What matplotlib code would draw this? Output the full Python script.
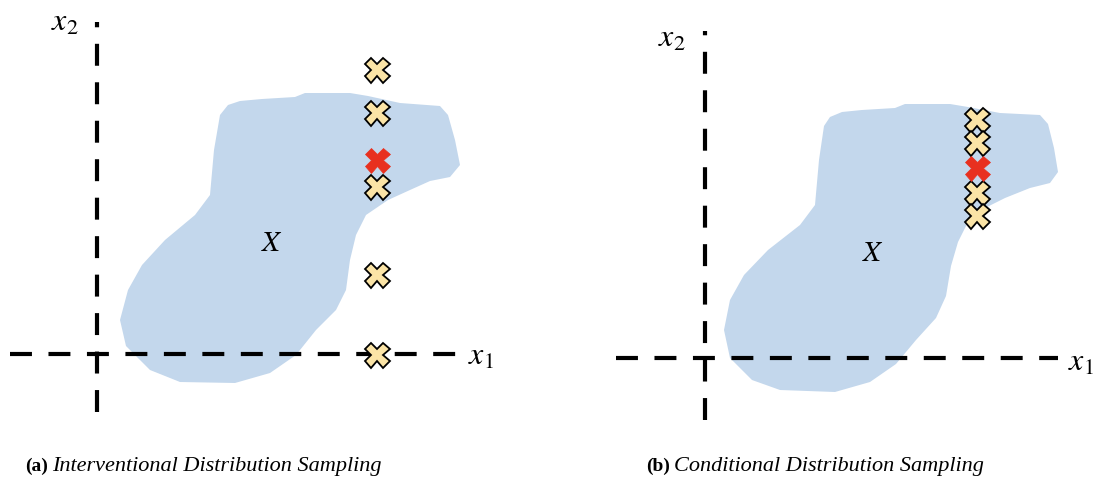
import matplotlib
matplotlib.use("Agg")
import matplotlib.pyplot as plt
from matplotlib.patches import Polygon

plt.rcParams['lines.scale_dashes'] = False
plt.rcParams['mathtext.fontset'] = 'stix'

# Panel (a): interventional sampling (pixel-like coordinates)
blob_a_x = [228, 240, 262, 295, 305, 350, 368, 400, 440, 448, 455, 460, 450, 430, 410, 388, 366, 356, 350, 346, 336,
            316, 296, 270, 235, 180, 150, 126, 120, 128, 142, 165, 195, 210, 214, 220]
blob_a_y = [105, 101, 99, 97, 93, 93, 96, 103, 106, 115, 140, 165, 177, 181, 190, 200, 215, 235, 260, 290, 310,
            330, 355, 373, 383, 382, 370, 346, 320, 290, 265, 240, 215, 195, 150, 115]
samples_a_y = [70, 113, 187, 275, 355]
target_a_y = [160]
samples_a_x = 377

# Panel (b): conditional sampling
blob_b_x = [830, 842, 862, 895, 905, 950, 968, 1000, 1040, 1048, 1054, 1058, 1050, 1030, 1005, 985, 968, 958, 951,
            946, 936, 916, 896, 870, 835, 780, 752, 730, 724, 730, 744, 768, 800, 815, 819, 824]
blob_b_y = [117, 112, 110, 108, 104, 104, 107, 113, 115, 124, 148, 172, 183, 188, 198, 208, 222, 242, 266,
            296, 318, 340, 364, 382, 392, 390, 380, 358, 330, 300, 275, 250, 225, 205, 160, 126]
samples_b_y = [120, 143, 193, 216]
target_b_y = [168]
samples_b_x = 977

fig = plt.figure(figsize=(10.97, 4.8), dpi=100)
ax = fig.add_axes([0, 0, 1, 1])
ax.set_xlim(0, 1097)
ax.set_ylim(480, 0)
ax.axis('off')

blue = '#c3d7ec'
cream = '#fbe4a6'
red = '#e8301f'
dash = (0, (15.8, 11.9))
lw = 3.0

for bx, by in [(blob_a_x, blob_a_y), (blob_b_x, blob_b_y)]:
    ax.add_patch(Polygon(list(zip(bx, by)), closed=True, facecolor=blue, edgecolor='none', zorder=1))

# axes lines
ax.plot([97, 97], [412, 22], color='black', lw=lw, linestyle=dash, zorder=2, dash_capstyle='butt')
ax.plot([10, 456], [354, 354], color='black', lw=lw, linestyle=dash, zorder=2, dash_capstyle='butt')
ax.plot([705, 705], [420, 31], color='black', lw=lw, linestyle=dash, zorder=2, dash_capstyle='butt')
ax.plot([616, 1058], [358, 358], color='black', lw=lw, linestyle=dash, zorder=2, dash_capstyle='butt')

ax.text(65, 22, r'$x_2$', fontsize=23, ha='center', va='center')
ax.text(481, 356, r'$x_1$', fontsize=23, ha='center', va='center')
ax.text(672, 38, r'$x_2$', fontsize=23, ha='center', va='center')
ax.text(1081, 362, r'$x_1$', fontsize=23, ha='center', va='center')
ax.text(272, 243, r'$X$', fontsize=21, ha='center', va='center')
ax.text(873, 253, r'$X$', fontsize=21, ha='center', va='center')

ax.plot([samples_a_x] * len(samples_a_y), samples_a_y, linestyle='none', marker='X', ms=18,
        mfc=cream, mec='black', mew=1.3, zorder=4)
ax.plot([samples_a_x] * len(target_a_y), target_a_y, linestyle='none', marker='X', ms=18,
        mfc=red, mec=red, mew=0.5, zorder=4)
ax.plot([samples_b_x] * len(samples_b_y), samples_b_y, linestyle='none', marker='X', ms=18,
        mfc=cream, mec='black', mew=1.3, zorder=4)
ax.plot([samples_b_x] * len(target_b_y), target_b_y, linestyle='none', marker='X', ms=18,
        mfc=red, mec=red, mew=0.5, zorder=4)

ax.text(25, 466, '(a)', fontsize=14, fontweight='bold', family='Liberation Serif', ha='left', va='center')
ax.text(52, 466, 'Interventional Distribution Sampling', fontsize=16, style='italic',
        family='Liberation Serif', ha='left', va='center')
ax.text(646, 466, '(b)', fontsize=14, fontweight='bold', family='Liberation Serif', ha='left', va='center')
ax.text(674, 466, 'Conditional Distribution Sampling', fontsize=16, style='italic',
        family='Liberation Serif', ha='left', va='center')

fig.savefig('out.png', dpi=100)
